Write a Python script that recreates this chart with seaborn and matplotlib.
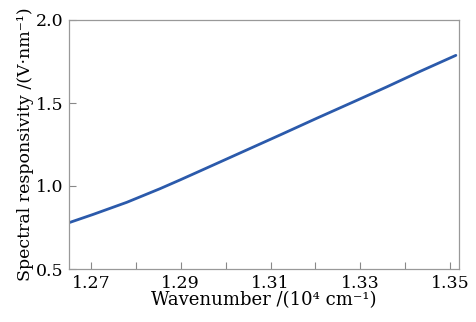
import numpy as np
import seaborn as sns
import pandas as pd

import matplotlib.pyplot as plt

# 读图得到的数据点
wavenumber = [1.2651, 1.2705, 1.2780, 1.2854, 1.2898, 1.2936, 1.2973, 1.3047,
              1.3121, 1.3203, 1.3285, 1.3359, 1.3433, 1.3513]
responsivity = [0.779, 0.829, 0.902, 0.984, 1.036, 1.082, 1.127, 1.217,
                1.307, 1.408, 1.507, 1.597, 1.690, 1.787]

x_ticks = [1.27, 1.29, 1.31, 1.33, 1.35]
x_minor = [1.28, 1.30, 1.32, 1.34]
y_ticks = [0.5, 1.0, 1.5, 2.0]

sns.set_style("ticks")
plt.rcParams['font.family'] = ['DejaVu Serif']
plt.rcParams['text.color'] = 'black'
plt.rcParams['axes.labelcolor'] = 'black'

df = pd.DataFrame({"w": wavenumber, "r": responsivity})

fig, ax = plt.subplots(figsize=(4.76, 3.22), dpi=100)
fig.subplots_adjust(left=69/476, right=459/476, top=1-20/322, bottom=1-269/322)

sns.lineplot(data=df, x="w", y="r", ax=ax, color="#2b5aab", linewidth=2.0)

ax.set_xlim(1.2651, 1.352)
ax.set_ylim(0.5, 2.0)
ax.set_xticks(x_ticks)
ax.set_xticklabels([f"{t:.2f}" for t in x_ticks])
ax.set_xticks(x_minor, minor=True)
ax.set_yticks(y_ticks)
ax.set_yticklabels([f"{t:.1f}" for t in y_ticks])

for s in ax.spines.values():
    s.set_visible(True)
    s.set_color("#999999")
    s.set_linewidth(0.9)
ax.tick_params(which="both", direction="in", length=5, width=0.8, color="#888888",
               labelsize=12.5, pad=4, labelcolor="black")

ax.set_xlabel("Wavenumber /(10⁴ cm⁻¹)", fontsize=13, labelpad=0)
ax.set_ylabel("Spectral responsivity /(V·nm⁻¹)", fontsize=12.5, labelpad=1)

fig.savefig("out.png", dpi=100)
